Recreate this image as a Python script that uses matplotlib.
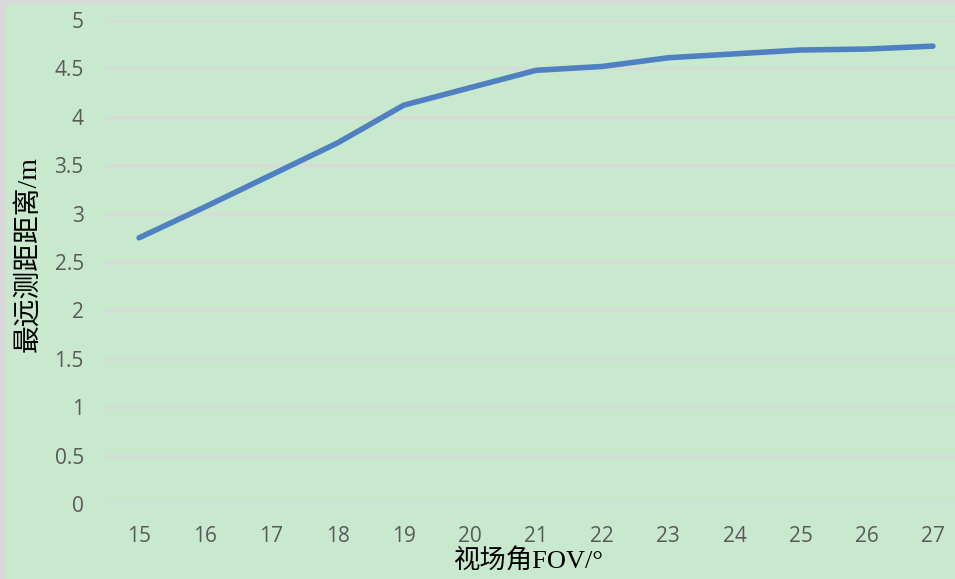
import matplotlib.pyplot as plt
from matplotlib.patches import Rectangle

# data
fov = [15, 16, 17, 18, 19, 20, 21, 22, 23, 24, 25, 26, 27]
min_dist = [2.75, 3.07, 3.40, 3.73, 4.12, 4.30, 4.48, 4.52, 4.61, 4.65, 4.69, 4.70, 4.73]
y_ticks = [0, 0.5, 1, 1.5, 2, 2.5, 3, 3.5, 4, 4.5, 5]
y_tick_labels = ['0', '0.5', '1', '1.5', '2', '2.5', '3', '3.5', '4', '4.5', '5']

bg = '#C9E9CE'
grid_c = '#D9D9D9'
tick_c = '#595959'
label_font = ['Liberation Serif', 'Noto Sans CJK SC']

fig = plt.figure(figsize=(9.55, 5.79), dpi=100, facecolor=bg)
W, H = 955, 579

# light gray frame on the left and top edges
fig.patches.append(Rectangle((0, 0), 6 / W, 1, transform=fig.transFigure,
                             facecolor=grid_c, edgecolor='none', zorder=0))
fig.patches.append(Rectangle((0, 1 - 4 / H), 1, 4 / H, transform=fig.transFigure,
                             facecolor=grid_c, edgecolor='none', zorder=0))

# plot area in pixels: x 106..966, y 20..504
left, right, top, bottom = 106, 966, 20, 504
ax = fig.add_axes([left / W, 1 - bottom / H, (right - left) / W, (bottom - top) / H])
ax.set_facecolor(bg)

ax.plot(fov, min_dist, color='#4F81C2', linewidth=4.0, solid_capstyle='round',
        solid_joinstyle='round', zorder=3)

ax.set_xlim(14.5, 27.5)
ax.set_ylim(0, 5)
ax.set_xticks(fov)
ax.set_xticklabels([str(v) for v in fov])
ax.set_yticks(y_ticks)
ax.set_yticklabels(y_tick_labels)

for s in ax.spines.values():
    s.set_visible(False)
ax.grid(axis='y', color=grid_c, linewidth=1.8, zorder=1)
ax.tick_params(axis='both', length=0, labelsize=15, labelcolor=tick_c)
ax.tick_params(axis='y', pad=16)
ax.tick_params(axis='x', pad=16)
for lab in ax.get_xticklabels() + ax.get_yticklabels():
    lab.set_family('Open Sans')

fig.text(529 / W, 1 - 560 / H, '视场角FOV/°', ha='center', va='center',
         fontsize=19, family=label_font, color='black')
fig.text(28 / W, 1 - 254 / H, '最远测距距离/m', ha='center', va='center',
         rotation=90, fontsize=20, family=label_font, color='black')

fig.savefig('out.png', dpi=100, facecolor=bg)
